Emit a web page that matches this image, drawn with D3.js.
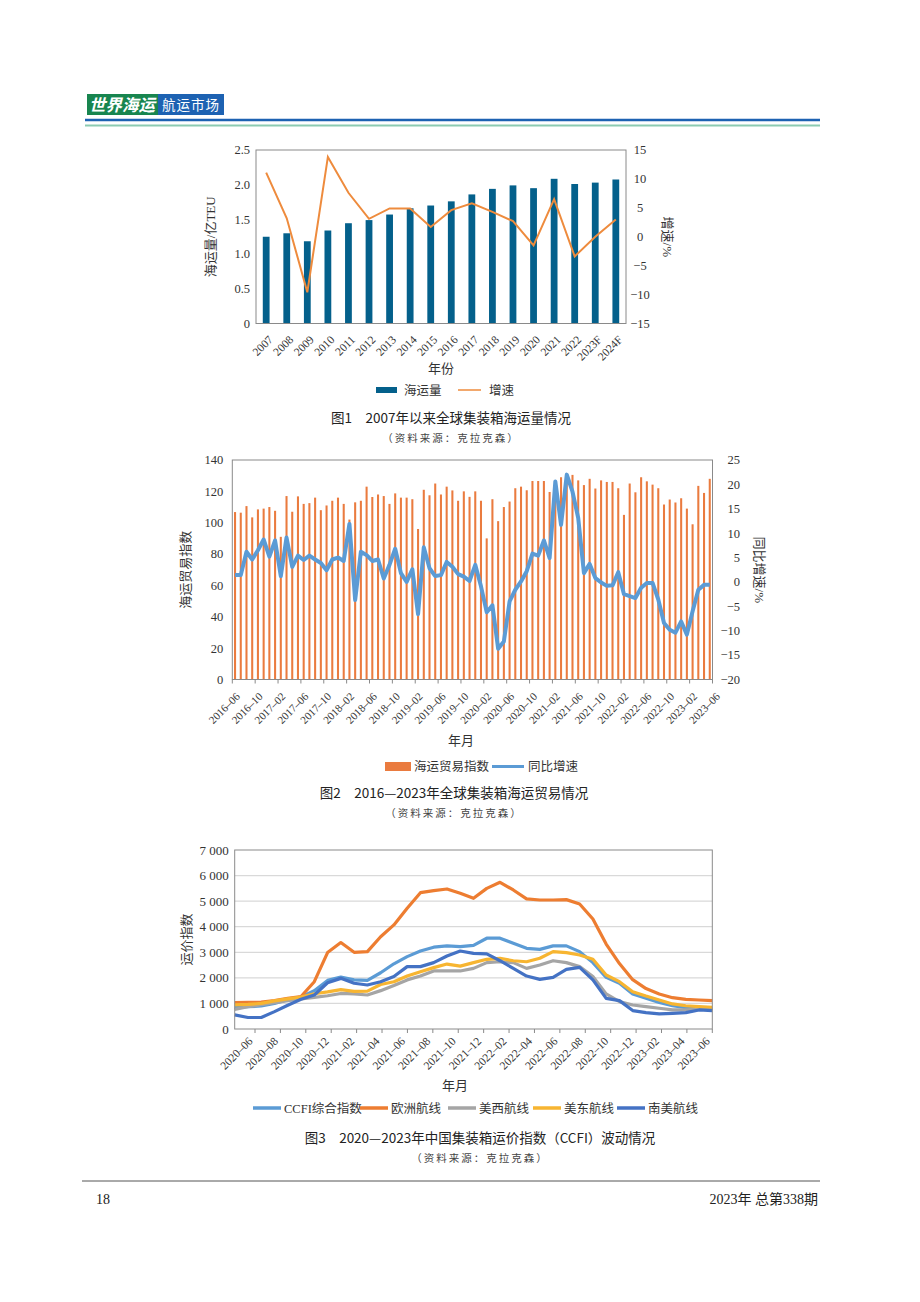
<!DOCTYPE html>
<html><head><meta charset="utf-8">
<script src="https://cdn.jsdelivr.net/npm/d3@7"></script>
<style>body{margin:0;background:#fff}svg{display:block}</style>
</head><body>
<svg id="page" width="920" height="1302"></svg>
<script>
// ---------------- DATA ----------------
// Figure 1
const years1 = ["2007","2008","2009","2010","2011","2012","2013","2014","2015","2016","2017","2018","2019","2020","2021","2022","2023F","2024F"];
const volume1 = [1.25,1.30,1.185,1.34,1.445,1.49,1.57,1.66,1.70,1.76,1.86,1.94,1.99,1.95,2.085,2.01,2.03,2.075];
const growth1 = [11.1,3.2,-9.6,13.8,7.6,3.1,4.9,4.9,1.7,4.6,5.8,4.3,2.7,-1.5,6.5,-3.4,0.0,3.0];
const ticks1L = [0,0.5,1.0,1.5,2.0,2.5];
const ticks1R = [-15,-10,-5,0,5,10,15];

// Figure 2 (monthly, 84 periods)
const tradeIndex2 = [106.8,106.4,110.6,103.4,108.5,109,110,107.6,91,117,107,116.8,112,112.5,116,108,111,114,116,112,
  102,113,114,123,116.4,118,117,112,118.7,116,116,115,96,121,117.5,125,118,123,120.6,114,120,116.5,
  120,114,90,115,101,110,113.5,122,123,120.7,126.6,126.6,126.6,119.6,126,129,129.8,130.5,127,124,
  128,121.8,127,126,126,122,105,125,119.4,129,126.4,124.3,122,111.6,114.8,112.9,115.6,109,99,123.5,119,128];
const yoy2 = [1.4,1.4,6.2,4.6,6.5,8.7,5.2,8.5,1.2,9.1,3.1,5.4,4.5,5.4,4.6,3.9,2.4,4.6,5.0,4.3,
  11.9,-3.7,6.2,5.5,4.3,4.6,0.7,3.5,6.8,1.8,0,2.6,-6.6,7.1,2.8,1.2,1.4,4.1,3.1,1.6,1.1,0.2,
  3.5,-0.9,-6.2,-4.8,-13.7,-12.2,-4,-1.6,0.1,2.2,5.8,5.4,8.5,4.9,20.6,11.7,22,18.5,13.1,1.8,
  3.7,0.8,-0.1,-0.8,-0.7,2,-2.5,-2.9,-3.3,-1.2,-0.2,-0.2,-3.6,-8.4,-9.8,-10.4,-8.1,-10.8,-6,-1.6,-0.6,-0.6];
const ticks2X = ["2016–06","2016–10","2017–02","2017–06","2017–10","2018–02","2018–06","2018–10","2019–02","2019–06","2019–10",
  "2020–02","2020–06","2020–10","2021–02","2021–06","2021–10","2022–02","2022–06","2022–10","2023–02","2023–06"];
const ticks2L = [0,20,40,60,80,100,120,140];
const ticks2R = [-20,-15,-10,-5,0,5,10,15,20,25];

// Figure 3 (monthly 2020-06 .. 2023-06)
const ccfi3   = [850,870,900,1000,1150,1250,1500,1900,2030,1920,1900,2200,2550,2830,3050,3200,3250,3220,3270,3550,3550,3350,3155,3115,3250,3250,3025,2595,2020,1790,1370,1200,1040,910,835,810,770];
const europe3 = [1030,1040,1050,1110,1200,1270,1850,2990,3380,3000,3025,3610,4070,4720,5330,5410,5476,5306,5110,5500,5737,5437,5090,5045,5045,5060,4890,4300,3320,2560,1930,1580,1370,1225,1160,1135,1110];
const usWest3 = [770,870,950,1030,1110,1180,1240,1300,1390,1370,1330,1500,1700,1920,2070,2270,2270,2270,2370,2595,2630,2595,2370,2500,2670,2595,2440,2050,1370,1070,940,875,810,745,745,770,810];
const usEast3 = [940,960,1000,1100,1180,1250,1380,1450,1540,1470,1480,1740,1850,2070,2240,2400,2540,2460,2595,2725,2765,2670,2630,2765,3025,2985,2895,2725,2110,1850,1460,1290,1135,980,910,875,850];
const southAm3= [550,450,450,680,930,1160,1330,1810,1980,1790,1720,1850,2050,2440,2440,2595,2855,3050,2960,2935,2670,2370,2070,1940,2020,2330,2410,1920,1200,1110,720,640,590,610,640,745,720];
const series3Names = ["CCFI综合指数","欧洲航线","美西航线","美东航线","南美航线"];
const ticks3X = ["2020–06","2020–08","2020–10","2020–12","2021–02","2021–04","2021–06","2021–08","2021–10","2021–12",
  "2022–02","2022–04","2022–06","2022–08","2022–10","2022–12","2023–02","2023–04","2023–06"];
const ticks3Y = [0,1000,2000,3000,4000,5000,6000,7000];

// ---------------- STYLE ----------------
const SERIF = "'Liberation Serif','Noto Sans CJK SC',serif";
const CJK = "'Noto Sans CJK SC','Noto Sans',sans-serif";
const BOX = "#8a8a8a";
const INK = "#333";

const svg = d3.select("#page");
svg.append("rect").attr("width",920).attr("height",1302).attr("fill","#fff");

// ---------------- HEADER ----------------
const hdr = svg.append("g");
hdr.append("rect").attr("x",87).attr("y",94).attr("width",71).attr("height",21).attr("fill","#18854f");
hdr.append("rect").attr("x",158).attr("y",94).attr("width",66).attr("height",21).attr("fill","#1d62b2");
hdr.append("text").attr("transform","translate(122,110.5) skewX(-14)")
  .attr("text-anchor","middle").attr("fill","#fff").attr("font-family",CJK)
  .attr("font-size",16.5).attr("font-weight","bold").text("世界海运");
hdr.append("text").attr("x",191).attr("y",110).attr("text-anchor","middle").attr("fill","#fff")
  .attr("font-family",CJK).attr("font-size",13.5).attr("letter-spacing",1).text("航运市场");
hdr.append("line").attr("x1",85).attr("x2",820).attr("y1",120).attr("y2",120).attr("stroke","#1d62b2").attr("stroke-width",2.6);
hdr.append("line").attr("x1",85).attr("x2",820).attr("y1",125.5).attr("y2",125.5).attr("stroke","#8ccbb2").attr("stroke-width",2.2);

// helpers
function caption(g, x, y, t1, t2){
  g.append("text").attr("x",x).attr("y",y).attr("text-anchor","middle").attr("font-family",CJK)
    .attr("font-size",13.5).attr("fill","#222").text(t1);
  g.append("text").attr("x",x).attr("y",y+19).attr("text-anchor","middle").attr("font-family",CJK)
    .attr("font-size",10.5).attr("letter-spacing",2).attr("fill","#444").text(t2);
}
function vtitle(g, x, y, rot, t){
  g.append("text").attr("transform",`translate(${x},${y}) rotate(${rot})`).attr("text-anchor","middle")
    .attr("dy","0.35em").attr("font-family",SERIF).attr("font-size",13).attr("fill",INK).text(t);
}
function yLabels(g, scale, vals, x, anchor, fmt, size){
  g.selectAll(null).data(vals).join("text")
    .attr("x",x).attr("y",d=>scale(d)).attr("dy","0.35em").attr("text-anchor",anchor)
    .attr("font-family",SERIF).attr("font-size",size).attr("fill",INK).text(fmt);
}
const minus = d => d<0 ? "−"+Math.abs(d) : String(d);

// ---------------- FIGURE 1 ----------------
{
  const g = svg.append("g");
  const L=256, R=626, T=150, B=323.5;
  const x = d3.scaleBand().domain(years1).range([L,R]).paddingInner(0.67).paddingOuter(0.33);
  const y = d3.scaleLinear().domain([0,2.5]).range([B,T]);
  const yr = d3.scaleLinear().domain([-15,15]).range([B,T]);
  g.selectAll(".bar").data(years1).join("rect")
    .attr("x",d=>x(d)).attr("width",x.bandwidth())
    .attr("y",(d,i)=>y(volume1[i])).attr("height",(d,i)=>B-y(volume1[i]))
    .attr("fill","#04608b");
  const line = d3.line().x((d,i)=>x(years1[i])+x.bandwidth()/2).y(d=>yr(d));
  g.append("path").attr("d",line(growth1)).attr("fill","none").attr("stroke","#ee8b3d").attr("stroke-width",2);
  g.append("rect").attr("x",L).attr("y",T).attr("width",R-L).attr("height",B-T)
    .attr("fill","none").attr("stroke",BOX).attr("stroke-width",1);
  yLabels(g, y, ticks1L, L-6, "end", d=> d===0?"0":d3.format(".1f")(d), 12.5);
  yLabels(g, yr, ticks1R, 640, "middle", minus, 12.5);
  g.selectAll(null).data(years1).join("text")
    .attr("transform",d=>`translate(${x(d)+x.bandwidth()/2+4.5},${B+14}) rotate(-45)`)
    .attr("dy","0.35em").attr("text-anchor","end").attr("font-family",SERIF).attr("font-size",11.5)
    .attr("fill",INK).text(d=>d);
  vtitle(g, 210, (T+B)/2, -90, "海运量/亿TEU");
  vtitle(g, 668, (T+B)/2, 90, "增速/%");
  g.append("text").attr("x",441).attr("y",373).attr("text-anchor","middle").attr("font-family",SERIF)
    .attr("font-size",13).attr("fill",INK).text("年份");
  // legend
  g.append("rect").attr("x",376).attr("y",387).attr("width",21).attr("height",6).attr("fill","#04608b");
  g.append("text").attr("x",404).attr("y",394.5).attr("font-family",SERIF).attr("font-size",12.5).attr("fill",INK).text("海运量");
  g.append("line").attr("x1",458).attr("x2",481).attr("y1",390).attr("y2",390).attr("stroke","#ee8b3d").attr("stroke-width",1.5);
  g.append("text").attr("x",489).attr("y",394.5).attr("font-family",SERIF).attr("font-size",12.5).attr("fill",INK).text("增速");
  caption(g, 451, 423, "图1　2007年以来全球集装箱海运量情况", "（资料来源：克拉克森）");
}

// ---------------- FIGURE 2 ----------------
{
  const g = svg.append("g");
  const L=232.3, R=712.5, T=460, B=679.5;
  const months2 = d3.range(tradeIndex2.length).map(i => d3.timeFormat("%Y-%m")(new Date(2016, 5+i, 1)));
  const x = d3.scaleBand().domain(months2).range([L,R]).paddingInner(0.64).paddingOuter(0.3);
  const xt = d3.scaleLinear().domain([0, ticks2X.length-1]).range([L,R]);
  const y = d3.scaleLinear().domain([0,140]).range([B,T]);
  const yr = d3.scaleLinear().domain([-20,25]).range([B,T]);
  g.selectAll(".bar").data(months2).join("rect")
    .attr("x",d=>x(d)).attr("width",x.bandwidth())
    .attr("y",(d,i)=>y(tradeIndex2[i])).attr("height",(d,i)=>B-y(tradeIndex2[i]))
    .attr("fill","#ea7b3f");
  const line = d3.line().x((d,i)=>x(months2[i])+x.bandwidth()/2).y(d=>yr(d));
  g.append("path").attr("d",line(yoy2)).attr("fill","none").attr("stroke","#5b9bd5")
    .attr("stroke-width",4).attr("stroke-linejoin","round");
  g.append("rect").attr("x",L).attr("y",T).attr("width",R-L).attr("height",B-T)
    .attr("fill","none").attr("stroke",BOX).attr("stroke-width",1);
  g.selectAll(null).data(ticks2X).join("line")
    .attr("x1",(d,i)=>xt(i)).attr("x2",(d,i)=>xt(i)).attr("y1",B).attr("y2",B+4).attr("stroke",BOX);
  yLabels(g, y, ticks2L, L-9, "end", String, 12.5);
  yLabels(g, yr, ticks2R, 740, "end", minus, 12.5);
  g.selectAll(null).data(ticks2X).join("text")
    .attr("transform",(d,i)=>`translate(${xt(i)+5.5},${B+15}) rotate(-45)`)
    .attr("dy","0.35em").attr("text-anchor","end").attr("font-family",SERIF).attr("font-size",11)
    .attr("fill",INK).text(d=>d);
  vtitle(g, 185, (T+B)/2, -90, "海运贸易指数");
  vtitle(g, 760, (T+B)/2, 90, "同比增速/%");
  g.append("text").attr("x",461).attr("y",745).attr("text-anchor","middle").attr("font-family",SERIF)
    .attr("font-size",13).attr("fill",INK).text("年月");
  g.append("rect").attr("x",385).attr("y",762).attr("width",26).attr("height",9).attr("fill","#ea7b3f");
  g.append("text").attr("x",414).attr("y",771).attr("font-family",SERIF).attr("font-size",12.5).attr("fill",INK).text("海运贸易指数");
  g.append("line").attr("x1",492).attr("x2",524).attr("y1",766.5).attr("y2",766.5).attr("stroke","#5b9bd5").attr("stroke-width",3);
  g.append("text").attr("x",528).attr("y",771).attr("font-family",SERIF).attr("font-size",12.5).attr("fill",INK).text("同比增速");
  caption(g, 454, 798, "图2　2016—2023年全球集装箱海运贸易情况", "（资料来源：克拉克森）");
}

// ---------------- FIGURE 3 ----------------
{
  const g = svg.append("g");
  const L=234.7, R=712.3, T=850, B=1029;
  const series = [ccfi3, europe3, usWest3, usEast3, southAm3];
  const colors = ["#5b9bd5","#ed7d31","#a5a5a5","#f7b531","#4472c4"];
  const x = d3.scaleLinear().domain([0, ccfi3.length-1]).range([L,R]);
  const xt = d3.scaleLinear().domain([0, ticks3X.length-1]).range([255,R]);
  const y = d3.scaleLinear().domain([0,7000]).range([B,T]);
  g.selectAll(null).data(ticks3Y.filter(d=>d>0 && d<7000)).join("line")
    .attr("x1",L).attr("x2",R).attr("y1",d=>y(d)).attr("y2",d=>y(d)).attr("stroke","#d9d9d9").attr("stroke-width",1.2);
  const line = d3.line().x((d,i)=>x(i)).y(d=>y(d));
  series.forEach((s,k)=>{
    g.append("path").attr("d",line(s)).attr("fill","none").attr("stroke",colors[k])
      .attr("stroke-width",3.2).attr("stroke-linejoin","round");
  });
  g.append("rect").attr("x",L).attr("y",T).attr("width",R-L).attr("height",B-T)
    .attr("fill","none").attr("stroke",BOX).attr("stroke-width",1);
  g.selectAll(null).data(ticks3X).join("line")
    .attr("x1",(d,i)=>xt(i)).attr("x2",(d,i)=>xt(i)).attr("y1",B).attr("y2",B+4).attr("stroke",BOX);
  const fmt3 = d3.formatLocale({thousands:" ",grouping:[3],decimal:".",currency:["",""]}).format(",");
  yLabels(g, y, ticks3Y, L-6, "end", d=> d===0?"0":fmt3(d), 13);
  g.selectAll(null).data(ticks3X).join("text")
    .attr("transform",(d,i)=>`translate(${xt(i)-4.5},${B+10}) rotate(-45)`)
    .attr("dy","0.35em").attr("text-anchor","end").attr("font-family",SERIF).attr("font-size",11.5)
    .attr("fill",INK).text(d=>d);
  vtitle(g, 186, (T+B)/2, -90, "运价指数");
  g.append("text").attr("x",455).attr("y",1090).attr("text-anchor","middle").attr("font-family",SERIF)
    .attr("font-size",13).attr("fill",INK).text("年月");
  // legend
  const lx = [253, 360, 448, 533, 617];
  series3Names.forEach((n,k)=>{
    g.append("line").attr("x1",lx[k]).attr("x2",lx[k]+28).attr("y1",1108).attr("y2",1108)
      .attr("stroke",colors[k]).attr("stroke-width",3.5);
    g.append("text").attr("x",lx[k]+31).attr("y",1112.5).attr("font-family",SERIF).attr("font-size",12.5)
      .attr("fill",INK).text(n);
  });
  caption(g, 480, 1143, "图3　2020—2023年中国集装箱运价指数（CCFI）波动情况", "（资料来源：克拉克森）");
}

// ---------------- FOOTER ----------------
svg.append("line").attr("x1",82).attr("x2",820).attr("y1",1181).attr("y2",1181).attr("stroke","#555").attr("stroke-width",1);
svg.append("text").attr("x",96).attr("y",1204).attr("font-family",SERIF).attr("font-size",14).attr("fill","#222").text("18");
svg.append("text").attr("x",818).attr("y",1204).attr("text-anchor","end").attr("font-family",SERIF).attr("font-size",14).attr("fill","#222").text("2023年 总第338期");
</script>
</body></html>
